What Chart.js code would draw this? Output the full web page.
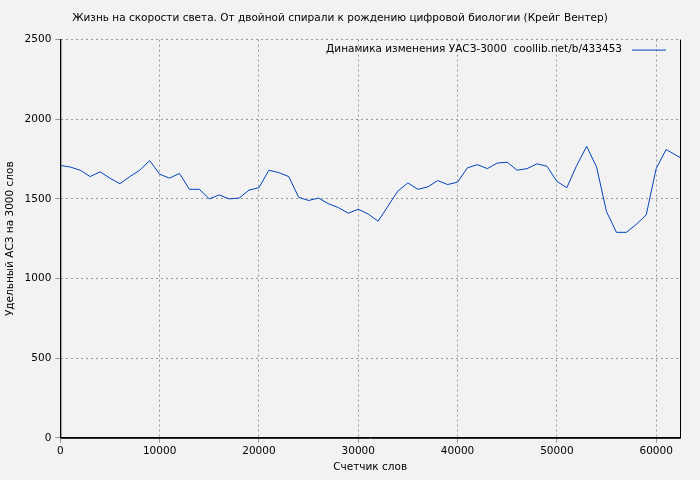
<!DOCTYPE html>
<html><head><meta charset="utf-8">
<script src="https://cdn.jsdelivr.net/npm/chart.js@4"></script>
<style>body{margin:0;background:#f2f2f2}#wrap{width:700px;height:480px}</style>
</head><body><div id="wrap"><canvas id="c"></canvas></div>
<script>
const words = [0,1000,2000,3000,4000,5000,6000,7000,8000,9000,10000,11000,12000,13000,14000,15000,16000,17000,18000,19000,20000,21000,22000,23000,24000,25000,26000,27000,28000,29000,30000,31000,32000,33000,34000,35000,36000,37000,38000,39000,40000,41000,42000,43000,44000,45000,46000,47000,48000,49000,50000,51000,52000,53000,54000,55000,56000,57000,58000,59000,60000,61000,62400]
let values = [1710,1700,1680,1640,1670,1630,1595,1640,1680,1740,1655,1630,1660,1560,1560,1500,1525,1500,1505,1555,1570,1680,1665,1640,1510,1490,1505,1470,1445,1410,1435,1405,1360,1455,1550,1600,1560,1575,1615,1590,1605,1695,1715,1690,1725,1730,1680,1690,1720,1705,1610,1570,1710,1830,1700,1420,1290,1290,1340,1400,1690,1810,1760]
const xTicks = [0, 10000, 20000, 30000, 40000, 50000, 60000]
const legendText = "Динамика изменения УАСЗ-3000  coollib.net/b/433453"

Chart.defaults.font.family = "DejaVu Sans"
Chart.defaults.font.size = 10.5
Chart.defaults.color = "#000"

// Legend inside the plot + solid axis lines
const legendPlugin = {
  id: "innerLegend",
  afterDraw(chart) {
    const c = chart.ctx, a = chart.chartArea
    c.save()
    c.font = "10.5px DejaVu Sans"
    c.textAlign = "right"
    c.textBaseline = "middle"
    c.fillStyle = "#000"
    c.fillText(legendText, a.right - 58, a.top + 10)
    c.strokeStyle = "#0044bb"
    c.lineWidth = 1
    c.beginPath(); c.moveTo(a.right - 48, a.top + 10.5); c.lineTo(a.right - 14, a.top + 10.5); c.stroke()
    c.strokeStyle = "#000"
    c.beginPath()
    c.moveTo(a.left + 0.5, a.top); c.lineTo(a.left + 0.5, a.bottom + 0.5)
    c.lineTo(a.right + 0.5, a.bottom + 0.5); c.lineTo(a.right + 0.5, a.top)
    c.stroke()
    c.restore()
  }
}

new Chart(document.getElementById("c"), {
  type: "line",
  data: {
    datasets: [{
      data: words.map((w, i) => ({ x: w, y: values[i] })),
      borderColor: "#0044bb",
      borderWidth: 1,
      pointRadius: 0,
      tension: 0
    }]
  },
  options: {
    animation: false,
    maintainAspectRatio: false,
    layout: { padding: { left: 0, right: 20, top: 0, bottom: 2 } },
    plugins: {
      legend: { display: false },
      tooltip: { enabled: false },
      title: {
        display: true,
        text: "Жизнь на скорости света. От двойной спирали к рождению цифровой биологии (Крейг Вентер)",
        font: { size: 10.5, weight: "normal" },
        padding: { top: 12, bottom: 15 }
      }
    },
    scales: {
      x: {
        type: "linear", min: 0, max: 62400,
        afterBuildTicks: s => { s.ticks = xTicks.map(v => ({ value: v })) },
        ticks: { maxRotation: 0, padding: 2, callback: v => String(v) },
        grid: { color: "#999", tickLength: 5 },
        border: { color: "#000", dash: [2, 3] },
        title: { display: true, text: "Счетчик слов", padding: { top: 2 } }
      },
      y: {
        min: 0, max: 2500,
        ticks: { stepSize: 500, padding: 4, callback: v => String(v) },
        grid: { color: "#999", tickLength: 5 },
        border: { color: "#000", dash: [2, 3] },
        title: { display: true, text: "Удельный АСЗ на 3000 слов" }
      }
    }
  },
  plugins: [legendPlugin]
})
</script></body></html>
